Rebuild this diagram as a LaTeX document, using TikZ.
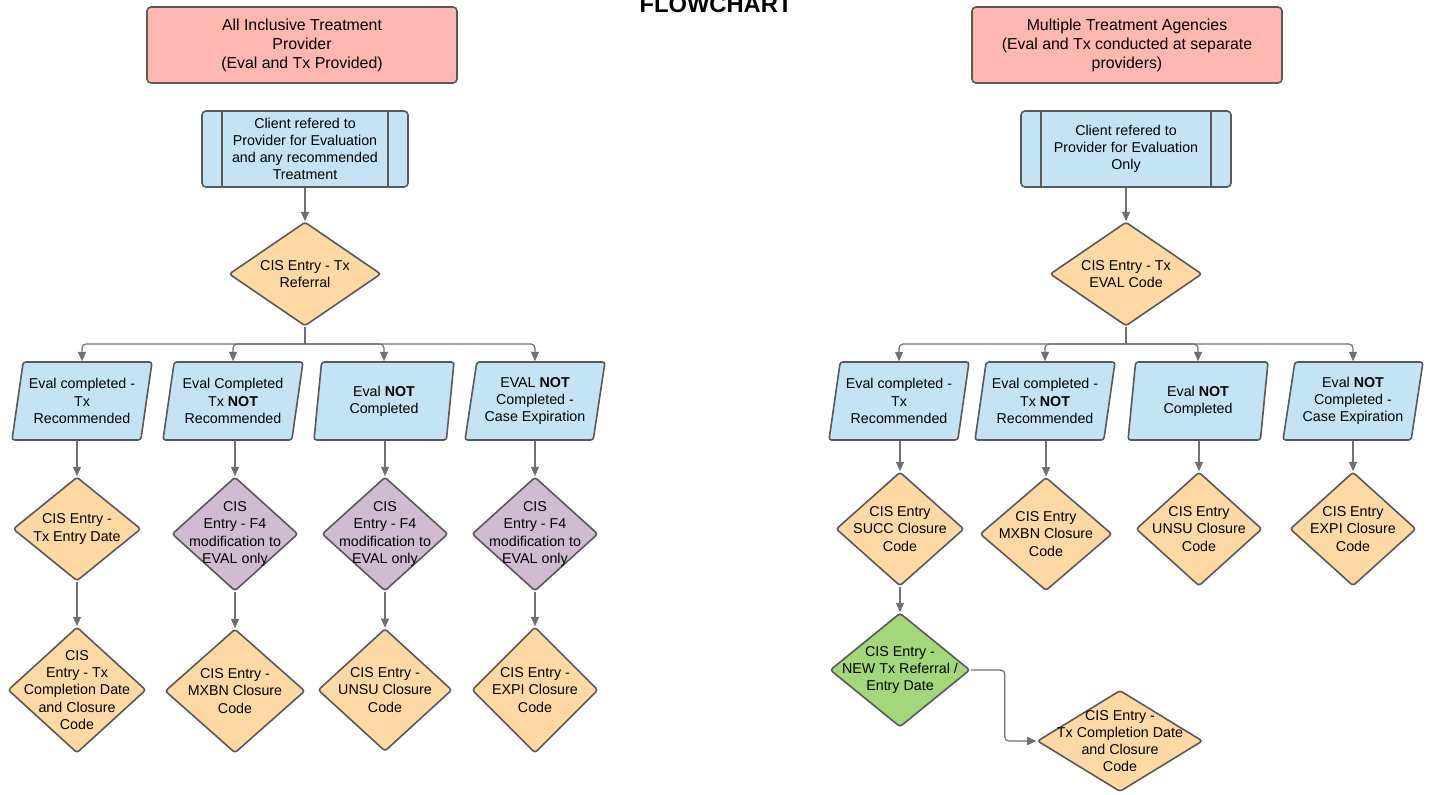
\documentclass[tikz,border=0pt]{standalone}
\usepackage{fontspec}
\setmainfont{Liberation Sans}
\usetikzlibrary{arrows.meta,shapes.geometric}
\definecolor{FlowRose}{HTML}{FFB7B0}
\definecolor{FlowSky}{HTML}{C4E4F6}
\definecolor{FlowPeach}{HTML}{FFD8A4}
\definecolor{FlowLilac}{HTML}{D0BBD3}
\definecolor{FlowLeaf}{HTML}{A3D77A}
\definecolor{FlowEdge}{HTML}{595959}
\definecolor{FlowLink}{HTML}{707070}

\begin{document}
\begin{tikzpicture}[x=0.75pt,y=-0.75pt,>={Triangle[length=7pt,width=6pt]}]
  \tikzset{base/.style={draw=FlowEdge,line width=1.2pt,font=\fontsize{10.7}{12.9}\selectfont},
    header/.style={base,rectangle,fill=FlowRose,rounded corners=3pt,align=center,
      minimum width=232.5pt,minimum height=57pt,font=\fontsize{11.9}{14.3}\selectfont},
    client/.style={base,rectangle,fill=FlowSky,rounded corners=3pt,align=center,minimum height=57pt},
    branch/.style={base,trapezium,trapezium left angle=76,trapezium right angle=104,
      trapezium stretches body,fill=FlowSky,rounded corners=2pt,align=center,inner sep=0pt,
      minimum width=105pt,minimum height=58.5pt},
    check/.style={base,diamond,fill=FlowPeach,rounded corners=2pt,inner sep=0pt},
    modify/.style={check,fill=FlowLilac},
    renew/.style={check,fill=FlowLeaf},
    dtext/.style={align=center,inner sep=0pt,font=\fontsize{10.7}{12.9}\selectfont},
    link/.style={draw=FlowLink,line width=0.9pt}}
  \useasboundingbox (0,0) rectangle (1430,795);
  \node[font=\bfseries\fontsize{17.8}{20}\selectfont,anchor=base] (title) at (716,13) {FLOWCHART};

  % all inclusive provider
  \node[header] (hdrL) at (302,45) {All Inclusive Treatment\\Provider\\(Eval and Tx Provided)};
  \node[client,minimum width=154.5pt] (cliL) at (305,149)
    {Client refered to\\Provider for Evaluation\\and any recommended\\Treatment};
  \node[check,minimum width=114pt,minimum height=78pt,
    label={[dtext]center:CIS Entry - Tx\\Referral}] (entL) at (305,274) {};
  \node[branch] (pL1) at (82,401) {Eval completed -\\Tx\\Recommended};
  \node[branch] (pL2) at (233,401) {Eval Completed\\Tx \textbf{NOT}\\Recommended};
  \node[branch] (pL3) at (384,401) {Eval \textbf{NOT}\\Completed};
  \node[branch] (pL4) at (535,401) {EVAL \textbf{NOT}\\Completed -\\Case Expiration};
  \node[check,minimum width=96pt,minimum height=78pt,
    label={[dtext]center:CIS Entry -\\Tx Entry Date}] (dL1) at (77,529) {};
  \node[modify,minimum width=94.5pt,minimum height=85.5pt,
    label={[dtext]center:CIS\\Entry - F4\\modification to\\EVAL only}] (dL2) at (235,534) {};
  \node[modify,minimum width=94.5pt,minimum height=85.5pt,
    label={[dtext]center:CIS\\Entry - F4\\modification to\\EVAL only}] (dL3) at (385,534) {};
  \node[modify,minimum width=94.5pt,minimum height=85.5pt,
    label={[dtext]center:CIS\\Entry - F4\\modification to\\EVAL only}] (dL4) at (535,534) {};
  \node[check,minimum width=103.5pt,minimum height=94.5pt,
    label={[dtext]center:CIS\\Entry - Tx\\Completion Date\\and Closure\\Code}] (eL1) at (77,690) {};
  \node[check,minimum width=105pt,minimum height=93pt,
    label={[dtext]center:CIS Entry -\\MXBN Closure\\Code}] (eL2) at (235,691) {};
  \node[check,minimum width=100.5pt,minimum height=92pt,
    label={[dtext]center:CIS Entry -\\UNSU Closure\\Code}] (eL3) at (385,690) {};
  \node[check,minimum width=94.5pt,minimum height=94.5pt,
    label={[dtext]center:CIS Entry -\\EXPI Closure\\Code}] (eL4) at (535,690) {};

  % multiple agencies
  \node[header] (hdrR) at (1127,45) {Multiple Treatment Agencies\\(Eval and Tx conducted at separate\\providers)};
  \node[client,minimum width=157.5pt] (cliR) at (1126,149)
    {Client refered to\\Provider for Evaluation\\Only};
  \node[check,minimum width=114pt,minimum height=78pt,
    label={[dtext]center:CIS Entry - Tx\\EVAL Code}] (entR) at (1126,274) {};
  \node[branch] (pR1) at (899,401) {Eval completed -\\Tx\\Recommended};
  \node[branch] (pR2) at (1045,401) {Eval completed -\\Tx \textbf{NOT}\\Recommended};
  \node[branch] (pR3) at (1198,401) {Eval \textbf{NOT}\\Completed};
  \node[branch] (pR4) at (1353,401) {Eval \textbf{NOT}\\Completed -\\Case Expiration};
  \node[check,minimum width=96pt,minimum height=85.5pt,
    label={[dtext]center:CIS Entry\\SUCC Closure\\Code}] (dR1) at (900,529) {};
  \node[check,minimum width=99pt,minimum height=85pt,
    label={[dtext]center:CIS Entry\\MXBN Closure\\Code}] (dR2) at (1046,534) {};
  \node[check,minimum width=94.5pt,minimum height=85.5pt,
    label={[dtext]center:CIS Entry\\UNSU Closure\\Code}] (dR3) at (1199,529) {};
  \node[check,minimum width=94.5pt,minimum height=85.5pt,
    label={[dtext]center:CIS Entry\\EXPI Closure\\Code}] (dR4) at (1353,529) {};
  \node[renew,minimum width=105pt,minimum height=85.5pt,
    label={[dtext]center:CIS Entry -\\NEW Tx Referral /\\Entry Date}] (gR) at (900,670) {};
  \node[check,minimum width=124pt,minimum height=76pt,
    label={[dtext]center:CIS Entry -\\Tx Completion Date\\and Closure\\Code}] (fR) at (1120,741) {};

  % side bars of the client boxes
  \foreach \c in {cliL,cliR} {
    \draw[FlowEdge,line width=1.2pt] ([xshift=15.5pt]\c.north west) -- ([xshift=15.5pt]\c.south west);
    \draw[FlowEdge,line width=1.2pt] ([xshift=-15.5pt]\c.north east) -- ([xshift=-15.5pt]\c.south east);
  }

  % connectors
  \draw[link,->] (cliL) -- (entL);
  \draw[link,->] (cliR) -- (entR);
  \coordinate (splitL) at (305,344);
  \coordinate (splitR) at (1126,344);
  \draw[link] (entL.south) -- (splitL);
  \draw[link] (entR.south) -- (splitR);
  \foreach \p in {pL1,pL2,pL3,pL4}
    \draw[link,->,rounded corners=3pt] (splitL) -| (\p.north);
  \foreach \p in {pR1,pR2,pR3,pR4}
    \draw[link,->,rounded corners=3pt] (splitR) -| (\p.north);
  \foreach \p/\d in {pL1/dL1,pL2/dL2,pL3/dL3,pL4/dL4,pR1/dR1,pR2/dR2,pR3/dR3,pR4/dR4}
    \draw[link,->] (\d.north |- \p.south) -- (\d.north);
  \foreach \d/\e in {dL1/eL1,dL2/eL2,dL3/eL3,dL4/eL4,dR1/gR}
    \draw[link,->] (\d) -- (\e);
  \draw[link,->,rounded corners=3pt] (gR.east) -- ++(34,0) |- (fR.west);
\end{tikzpicture}
\end{document}
